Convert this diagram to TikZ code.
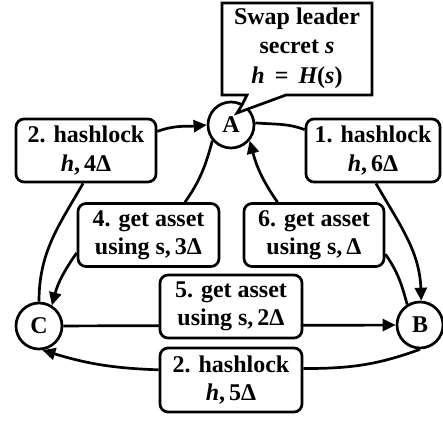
\documentclass[tikz,border=0pt]{standalone}
\usepackage{fontspec}
\setmainfont{Liberation Serif}
\usetikzlibrary{arrows.meta,backgrounds}
\begin{document}
\begin{tikzpicture}[x=1pt,y=1pt,
  lw/.style={line width=2.7pt},
  txt/.style={font=\fontsize{24}{28.5}\selectfont\bfseries},
  vtx/.style={circle,draw,lw,fill=white,minimum size=46pt,inner sep=0pt,txt},
  lbl/.style={draw,lw,fill=white,rounded corners=8pt,minimum height=63pt,align=center,inner sep=0pt,txt},
  arr/.style={lw,-{Triangle[length=13pt,width=12pt]}}]
\useasboundingbox (0,0) rectangle (443,-422);
% vertices
\node[vtx] (A) at (231,-125) {A};
\node[vtx] (B) at (420,-325) {B};
\node[vtx] (C) at (39,-326) {C};
% labels
\node[lbl,minimum width=134pt] (L1) at (373,-150.5) {1. hashlock\\{\itshape h},\,6Δ};
\node[lbl,minimum width=140pt] (L2) at (86,-150.5) {2. hashlock\\{\itshape h},\,4Δ};
\node[lbl,minimum width=141pt] (L4) at (148.5,-235) {4. get asset\\using s,\,3Δ};
\node[lbl,minimum width=140pt] (L6) at (314,-235) {6. get asset\\using s,\,Δ};
\node[lbl,minimum width=142pt] (L5) at (231,-306.5) {5. get asset\\using s,\,2Δ};
\node[lbl,minimum width=142pt,minimum height=64pt] (Lb) at (231,-380) {2. hashlock\\{\itshape h},\,5Δ};
% connectors
\begin{scope}[on background layer]
  \draw[lw] (A.5) to[out=-5,in=160] (L1.163);
  \draw[arr] (L1.-85) to[out=-60,in=92] (B.87);
  \draw[lw] (B.-90) to[out=200,in=0] (Lb.9);
  \draw[arr] (Lb.172) to[out=178,in=-17] (C.-82);
  \draw[lw] (C.90) to[out=90,in=240] (L2.-95);
  \draw[arr] (L2.15) to[out=20,in=185] (A.180);
  \draw[lw] (A.220) to[out=255,in=55] (L4.42);
  \draw[arr] (L4.194) to[out=235,in=75] (C.58);
  \draw[arr] (C) -- (B);
  \draw[lw] (B.122) to[out=105,in=-55] (L6.-15);
  \draw[arr] (L6.138) to[out=125,in=-75] (A.-40);
\end{scope}
% callout
\draw[lw,fill=white,line join=miter] (222,-3) -- (372,-3) -- (372,-95) -- (286,-95)
  -- (237,-113) -- (242,-105) -- (247,-95) -- (222,-95) -- cycle;
\node[txt,align=center,font=\fontsize{24}{29.5}\selectfont\bfseries] (CO) at (297,-48)
  {Swap leader\\secret {\itshape s}\\{\itshape h}\hspace{4pt} = \hspace{4pt}{\itshape H}({\itshape s})};
\end{tikzpicture}
\end{document}
